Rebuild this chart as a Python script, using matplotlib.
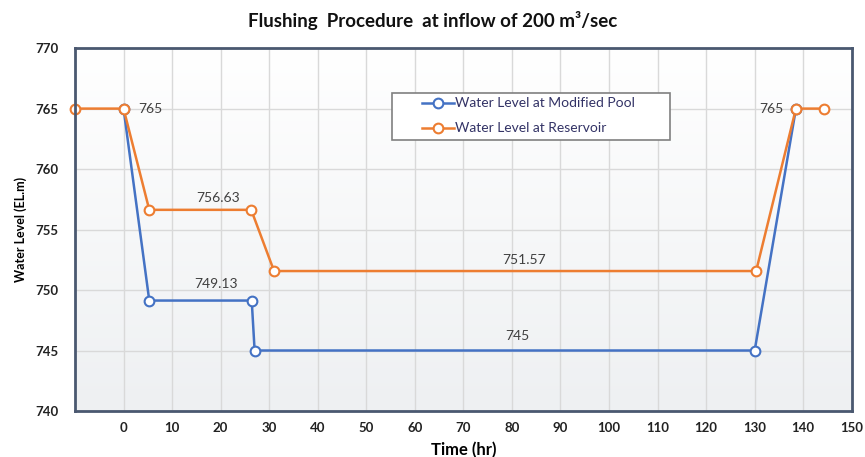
import matplotlib
matplotlib.use("Agg")
import matplotlib.pyplot as plt
from matplotlib.patches import Rectangle
from matplotlib.lines import Line2D
import numpy as np

plt.rcParams['font.family'] = ['Lato', 'DejaVu Sans']

pool_t = [0, 5.3, 26.4, 27, 130, 138.5]
pool_lvl = [765, 749.13, 749.13, 745, 745, 765]
res_t = [-10, 0, 5.3, 26.3, 31, 130.3, 138.5, 144.3]
res_lvl = [765, 765, 756.63, 756.63, 751.57, 751.57, 765, 765]
x_ticks = list(range(0, 151, 10))
y_ticks = list(range(740, 771, 5))

fig = plt.figure(figsize=(8.65, 4.57), dpi=100)
ax = fig.add_axes([0.0867, 0.1007, 0.898, 0.794])

grad = np.linspace(1, 0, 256).reshape(-1, 1)
cmap = matplotlib.colors.LinearSegmentedColormap.from_list('g', ['#eef0f2', '#ffffff'])
ax.imshow(grad, extent=[0, 1, 0, 1], transform=ax.transAxes, aspect='auto',
          cmap=cmap, vmin=0, vmax=1, zorder=0, origin='upper')
ax.set_xlim(-10, 150)
ax.set_ylim(740, 770)

for x in range(-10, 151, 10):
    ax.axvline(x, color='#d9d9d9', lw=1, zorder=1)
for y in y_ticks:
    ax.axhline(y, color='#d9d9d9', lw=1, zorder=1)

blue = '#4472c4'
orange = '#ed7d31'
ax.plot(pool_t, pool_lvl, color=blue, lw=1.8, marker='o', ms=7,
        mfc='white', mec=blue, mew=1.5, zorder=3)
ax.plot(res_t, res_lvl, color=orange, lw=1.8, marker='o', ms=7,
        mfc='white', mec=orange, mew=1.5, zorder=3, clip_on=False)

tc = '#404040'
fs = 10
ax.text(3, 765, '765', fontsize=fs, color=tc, va='center', ha='left')
ax.text(19.5, 757.6, '756.63', fontsize=fs, color=tc, va='center', ha='center')
ax.text(19, 750.5, '749.13', fontsize=fs, color=tc, va='center', ha='center')
ax.text(82.5, 752.5, '751.57', fontsize=fs, color=tc, va='center', ha='center')
ax.text(81.2, 746.2, '745', fontsize=fs, color=tc, va='center', ha='center')
ax.text(136, 765, '765', fontsize=fs, color=tc, va='center', ha='right')

ax.set_xticks(x_ticks)
ax.set_yticks(y_ticks)
ax.tick_params(length=0, labelsize=9.5, colors='#222222', pad=8)
for lbl in ax.get_xticklabels() + ax.get_yticklabels():
    lbl.set_fontweight('bold')
ax.tick_params(axis='y', pad=12)

for s in ax.spines.values():
    s.set_color('#4a5870')
    s.set_linewidth(2)
    s.set_zorder(5)

ax.set_xlabel('Time (hr)', fontsize=12, fontweight='bold', labelpad=6)
ax.set_ylabel('Water Level (EL.m)', fontsize=9, fontweight='bold', labelpad=6)
fig.text(0.5, 0.955, 'Flushing  Procedure  at inflow of 200 m³/sec', ha='center', va='center',
         fontsize=13.5, fontweight='bold', color='#111111')

# legend box
ax.add_patch(Rectangle((0.408, 0.747), 0.358, 0.129, transform=ax.transAxes,
                       facecolor='white', edgecolor='#808080', lw=1.2, zorder=6))
entries = [('Water Level at Modified Pool', blue, 0.848),
           ('Water Level at Reservoir', orange, 0.779)]
for label, col, yy in entries:
    ax.add_line(Line2D([0.447, 0.488], [yy, yy], transform=ax.transAxes, color=col,
                       lw=1.8, zorder=7))
    ax.add_line(Line2D([0.4675], [yy], transform=ax.transAxes, color=col, marker='o', ms=7,
                       mfc='white', mec=col, mew=1.5, zorder=8))
    ax.text(0.489, yy, label, transform=ax.transAxes, fontsize=10, color='#333366',
            va='center', ha='left', zorder=8)

fig.savefig('out.png', dpi=100)
